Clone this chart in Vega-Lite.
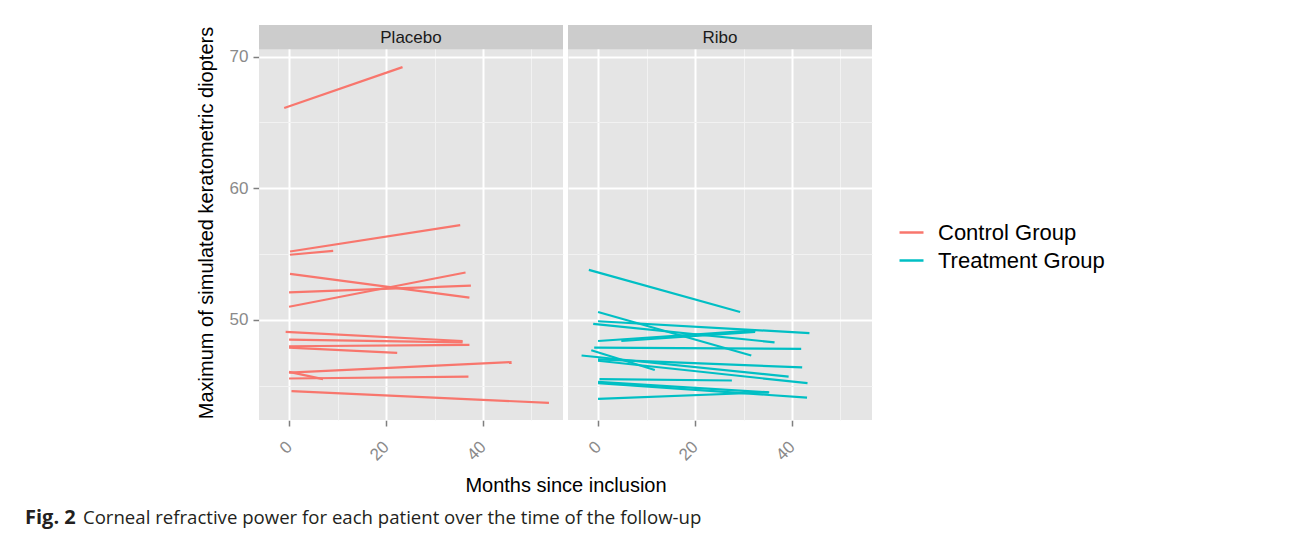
{
  "$schema": "https://vega.github.io/schema/vega-lite/v6.json",
  "background": "white",
  "padding": {"left": 25, "top": 25, "right": 10, "bottom": 5},
  "title": {
    "text": "Fig. 2",
    "subtitle": "\u200b\u00a0\u00a0\u00a0\u00a0\u00a0\u00a0\u00a0\u00a0\u00a0\u00a0\u00a0\u00a0Corneal refractive power for each patient over the time of the follow-up",
    "orient": "bottom",
    "anchor": "start",
    "frame": "group",
    "dx": -234,
    "offset": 12,
    "font": "Open Sans",
    "fontSize": 20,
    "fontWeight": "bold",
    "color": "#231F20",
    "subtitleFont": "Open Sans",
    "subtitleFontSize": 18.6,
    "subtitleFontWeight": "normal",
    "subtitleColor": "#231F20",
    "subtitlePadding": -19.5
  },
  "data": {
    "values": [
      {"arm": "Placebo", "group": "Control Group", "id": "P1", "t": -1.0, "k": 66.1},
      {"arm": "Placebo", "group": "Control Group", "id": "P1", "t": 23.4, "k": 69.2},
      {"arm": "Placebo", "group": "Control Group", "id": "P2", "t": 0.2, "k": 55.2},
      {"arm": "Placebo", "group": "Control Group", "id": "P2", "t": 35.3, "k": 57.2},
      {"arm": "Placebo", "group": "Control Group", "id": "P3", "t": 0.2, "k": 54.95},
      {"arm": "Placebo", "group": "Control Group", "id": "P3", "t": 9.1, "k": 55.25},
      {"arm": "Placebo", "group": "Control Group", "id": "P4", "t": 0.2, "k": 53.5},
      {"arm": "Placebo", "group": "Control Group", "id": "P4", "t": 37.2, "k": 51.7},
      {"arm": "Placebo", "group": "Control Group", "id": "P5", "t": 0.0, "k": 52.1},
      {"arm": "Placebo", "group": "Control Group", "id": "P5", "t": 37.5, "k": 52.6},
      {"arm": "Placebo", "group": "Control Group", "id": "P6", "t": 0.0, "k": 51.0},
      {"arm": "Placebo", "group": "Control Group", "id": "P6", "t": 36.4, "k": 53.6},
      {"arm": "Placebo", "group": "Control Group", "id": "P7", "t": -0.7, "k": 49.1},
      {"arm": "Placebo", "group": "Control Group", "id": "P7", "t": 35.8, "k": 48.4},
      {"arm": "Placebo", "group": "Control Group", "id": "P8", "t": 0.0, "k": 48.5},
      {"arm": "Placebo", "group": "Control Group", "id": "P8", "t": 35.8, "k": 48.3},
      {"arm": "Placebo", "group": "Control Group", "id": "P9", "t": 0.0, "k": 48.0},
      {"arm": "Placebo", "group": "Control Group", "id": "P9", "t": 37.2, "k": 48.1},
      {"arm": "Placebo", "group": "Control Group", "id": "P10", "t": 0.0, "k": 47.9},
      {"arm": "Placebo", "group": "Control Group", "id": "P10", "t": 22.3, "k": 47.5},
      {"arm": "Placebo", "group": "Control Group", "id": "P11", "t": 0.0, "k": 46.0},
      {"arm": "Placebo", "group": "Control Group", "id": "P11", "t": 45.9, "k": 46.8},
      {"arm": "Placebo", "group": "Control Group", "id": "P12", "t": 0.0, "k": 46.05},
      {"arm": "Placebo", "group": "Control Group", "id": "P12", "t": 7.0, "k": 45.5},
      {"arm": "Placebo", "group": "Control Group", "id": "P13", "t": 0.0, "k": 45.55},
      {"arm": "Placebo", "group": "Control Group", "id": "P13", "t": 37.0, "k": 45.7},
      {"arm": "Placebo", "group": "Control Group", "id": "P14", "t": 0.5, "k": 44.6},
      {"arm": "Placebo", "group": "Control Group", "id": "P14", "t": 53.6, "k": 43.7},
      {"arm": "Ribo", "group": "Treatment Group", "id": "R0", "t": -1.9, "k": 53.8},
      {"arm": "Ribo", "group": "Treatment Group", "id": "R0", "t": 29.3, "k": 50.6},
      {"arm": "Ribo", "group": "Treatment Group", "id": "R1", "t": 0.0, "k": 50.6},
      {"arm": "Ribo", "group": "Treatment Group", "id": "R1", "t": 31.6, "k": 47.3},
      {"arm": "Ribo", "group": "Treatment Group", "id": "R2", "t": 0.0, "k": 49.9},
      {"arm": "Ribo", "group": "Treatment Group", "id": "R2", "t": 43.6, "k": 49.0},
      {"arm": "Ribo", "group": "Treatment Group", "id": "R3", "t": -1.0, "k": 49.7},
      {"arm": "Ribo", "group": "Treatment Group", "id": "R3", "t": 36.4, "k": 48.3},
      {"arm": "Ribo", "group": "Treatment Group", "id": "R4", "t": 0.0, "k": 48.4},
      {"arm": "Ribo", "group": "Treatment Group", "id": "R4", "t": 32.5, "k": 49.2},
      {"arm": "Ribo", "group": "Treatment Group", "id": "R5", "t": 4.8, "k": 48.4},
      {"arm": "Ribo", "group": "Treatment Group", "id": "R5", "t": 32.4, "k": 49.1},
      {"arm": "Ribo", "group": "Treatment Group", "id": "R6", "t": -0.8, "k": 47.9},
      {"arm": "Ribo", "group": "Treatment Group", "id": "R6", "t": 41.9, "k": 47.8},
      {"arm": "Ribo", "group": "Treatment Group", "id": "R7", "t": -1.4, "k": 47.7},
      {"arm": "Ribo", "group": "Treatment Group", "id": "R7", "t": 11.7, "k": 46.2},
      {"arm": "Ribo", "group": "Treatment Group", "id": "R8", "t": -3.4, "k": 47.3},
      {"arm": "Ribo", "group": "Treatment Group", "id": "R8", "t": 39.3, "k": 45.7},
      {"arm": "Ribo", "group": "Treatment Group", "id": "R9", "t": 0.0, "k": 47.0},
      {"arm": "Ribo", "group": "Treatment Group", "id": "R9", "t": 42.1, "k": 46.4},
      {"arm": "Ribo", "group": "Treatment Group", "id": "R10", "t": 0.0, "k": 46.9},
      {"arm": "Ribo", "group": "Treatment Group", "id": "R10", "t": 43.2, "k": 45.2},
      {"arm": "Ribo", "group": "Treatment Group", "id": "R11", "t": 0.3, "k": 45.5},
      {"arm": "Ribo", "group": "Treatment Group", "id": "R11", "t": 27.6, "k": 45.4},
      {"arm": "Ribo", "group": "Treatment Group", "id": "R12", "t": 0.0, "k": 45.3},
      {"arm": "Ribo", "group": "Treatment Group", "id": "R12", "t": 35.3, "k": 44.5},
      {"arm": "Ribo", "group": "Treatment Group", "id": "R13", "t": 0.0, "k": 45.2},
      {"arm": "Ribo", "group": "Treatment Group", "id": "R13", "t": 43.1, "k": 44.1},
      {"arm": "Ribo", "group": "Treatment Group", "id": "R14", "t": 0.0, "k": 44.0},
      {"arm": "Ribo", "group": "Treatment Group", "id": "R14", "t": 35.1, "k": 44.5}
    ]
  },
  "facet": {
    "column": {
      "field": "arm",
      "type": "nominal",
      "header": {
        "labels": false,
        "title": "Months since inclusion",
        "titleOrient": "bottom",
        "titleFont": "Liberation Sans",
        "titleFontSize": 20,
        "titleFontWeight": "normal",
        "titleColor": "#000000",
        "titlePadding": 2
      }
    }
  },
  "spacing": 5,
  "spec": {
    "width": 304,
    "height": 395,
    "layer": [
      {
        "mark": {"type": "line", "strokeWidth": 2.2},
        "encoding": {
          "x": {
            "field": "t",
            "type": "quantitative",
            "scale": {"domain": [-6.2, 56.5], "nice": false, "zero": false},
            "axis": {
              "title": null,
              "values": [0, 10, 20, 30, 40, 50],
              "labelExpr": "datum.value % 20 === 0 ? datum.label : ''",
              "labelAngle": -45,
              "labelAlign": "right",
              "labelBaseline": "middle",
              "labelFontSize": 17,
              "labelColor": "#8A8A8A",
              "labelPadding": 18,
              "labelOverlap": false,
              "labelFlush": false,
              "labelBound": false,
              "tickSize": 6,
              "tickWidth": 1.5,
              "tickColor": {"condition": {"test": "datum.value % 20 !== 0", "value": "rgba(0,0,0,0)"}, "value": "#7F7F7F"},
              "domain": false,
              "grid": true,
              "gridColor": {"condition": {"test": "datum.value % 20 !== 0", "value": "#F2F2F2"}, "value": "#FFFFFF"},
              "gridWidth": {"condition": {"test": "datum.value % 20 !== 0", "value": 1}, "value": 2}
            }
          },
          "y": {
            "field": "k",
            "type": "quantitative",
            "scale": {"domain": [42.4, 72.4], "nice": false, "zero": false},
            "axis": {
              "title": "Maximum of simulated keratometric diopters",
              "titleFont": "Liberation Sans",
              "titleFontSize": 20,
              "titleFontWeight": "normal",
              "titleColor": "#000000",
              "titlePadding": 13,
              "values": [45, 50, 55, 60, 65, 70],
              "labelExpr": "datum.value % 10 === 0 ? datum.label : ''",
              "labelFontSize": 17,
              "labelColor": "#8A8A8A",
              "labelPadding": 5,
              "labelOverlap": false,
              "tickSize": 6,
              "tickWidth": 1.5,
              "tickColor": {"condition": {"test": "datum.value % 10 !== 0", "value": "rgba(0,0,0,0)"}, "value": "#7F7F7F"},
              "domain": false,
              "grid": true,
              "gridColor": {"condition": {"test": "datum.value % 10 !== 0", "value": "#F2F2F2"}, "value": "#FFFFFF"},
              "gridWidth": {"condition": {"test": "datum.value % 10 !== 0", "value": 1}, "value": 2}
            }
          },
          "detail": {"field": "id", "type": "nominal"},
          "color": {
            "field": "group",
            "type": "nominal",
            "scale": {"domain": ["Control Group", "Treatment Group"], "range": ["#F8766D", "#00BFC4"]},
            "legend": {
              "title": null,
              "orient": "none",
              "legendX": 639,
              "legendY": 194,
              "symbolType": "stroke",
              "symbolSize": 576,
              "symbolStrokeWidth": 2.5,
              "labelFontSize": 22,
              "labelColor": "#000000",
              "labelOffset": 13,
              "labelLimit": 400,
              "rowPadding": 3
            }
          }
        }
      },
      {
        "transform": [{"aggregate": [{"op": "count", "as": "n"}], "groupby": ["arm"]}],
        "mark": {"type": "rect", "color": "#CCCCCC"},
        "encoding": {
          "x": {"datum": -6.2},
          "x2": {"datum": 56.5},
          "y": {"datum": 70.55},
          "y2": {"datum": 72.4}
        }
      },
      {
        "transform": [{"aggregate": [{"op": "count", "as": "n"}], "groupby": ["arm"]}],
        "mark": {"type": "text", "fontSize": 17, "color": "#1A1A1A", "baseline": "middle", "align": "center"},
        "encoding": {
          "x": {"datum": 25.15},
          "y": {"datum": 71.45},
          "text": {"field": "arm", "type": "nominal"}
        }
      }
    ]
  },
  "config": {
    "font": "Liberation Sans",
    "view": {"fill": "#E5E5E5", "stroke": null}
  }
}
